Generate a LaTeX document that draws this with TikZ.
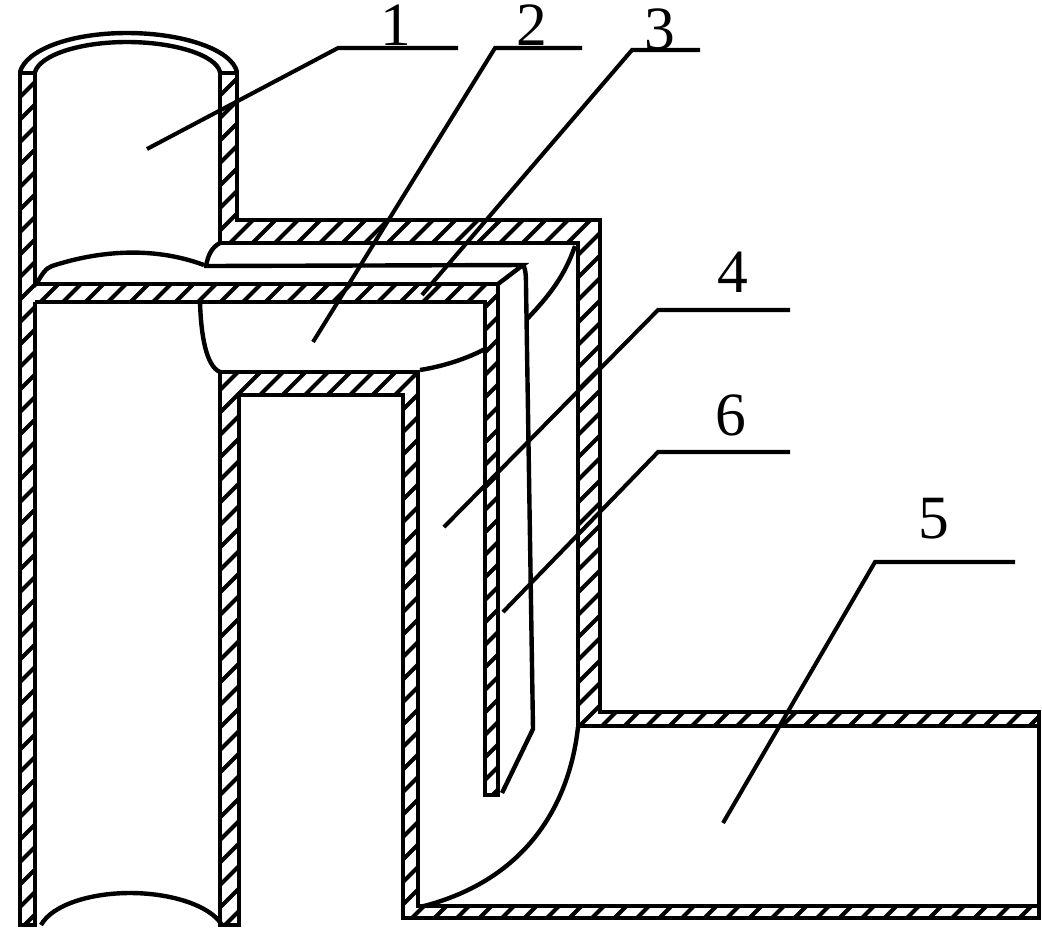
\documentclass[tikz,border=0pt]{standalone}
\usepackage{amsmath}
\usepackage{fontspec}
\setmainfont{Liberation Serif}
\tikzstyle{wall}=[black,line width=1.35pt,line join=miter]
\tikzstyle{hatch}=[black,line width=1.15pt]
\tikzstyle{edgeline}=[black,line width=1.25pt]
\tikzstyle{leader}=[black,line width=1.15pt]
\tikzstyle{partno}=[inner sep=0pt,font=\fontsize{17.5}{18}\selectfont]
\newcommand{\hatchwall}[2]{%
	\begin{scope}
		\clip #2;
		\foreach \k in {0,...,90}
			\draw[hatch] ({#1+22.5*\k},0) -- (0,{#1+22.5*\k});
	\end{scope}}

\begin{document}
\begin{tikzpicture}[x=0.01cm,y=-0.01cm]
	\useasboundingbox (0,0) rectangle (1042,929);
%--------------------start wall code --------------------
	%Hatching
	\hatchwall{4.5}{(20,73) rectangle (35,925)}
	\hatchwall{5}{(35,284) -- (498,284) -- (498,795) -- (485,795) -- (485,302) -- (35,302) -- cycle}
	\hatchwall{0.5}{(220,73) -- (237,73) -- (237,220) -- (600,220) -- (600,712) -- (1039,712) -- (1039,726) -- (578,726) -- (578,243) -- (220,243) -- cycle}
	\hatchwall{2.5}{(220,925) -- (239,925) -- (239,395) -- (403,395) -- (403,918) -- (1039,918) -- (1039,906) -- (418,906) -- (418,372) -- (220,372) -- cycle}

	%Left pipe wall
	\draw[wall] (35,284) -- (35,73) -- (20,73) -- (20,925) -- (35,925) -- (35,302);
	%Partition plate
	\draw[wall] (35,284) -- (498,284) -- (498,795) -- (485,795) -- (485,302) -- (35,302);
	%Upper shell
	\draw[wall] (220,73) -- (237,73) -- (237,220) -- (600,220) -- (600,712) -- (1039,712) -- (1039,726) -- (578,726) -- (578,243) -- (220,243) -- cycle;
	%Lower shell
	\draw[wall] (220,925) -- (239,925) -- (239,395) -- (403,395) -- (403,918) -- (1039,918) -- (1039,906) -- (418,906) -- (418,372) -- (220,372) -- cycle;
	%Outlet end
	\draw[wall] (1039,726) -- (1039,906);
%--------------------end wall code ----------------------
%--------------------start curve code -------------------
	%Pipe ends
	\draw[edgeline] (20,72) .. controls (26,50) and (70,33) .. (127,33) .. controls (184,33) and (232,50) .. (237,72);
	\draw[edgeline] (35,72) .. controls (40,55) and (80,42) .. (127,42) .. controls (174,42) and (216,55) .. (220,72);
	\draw[edgeline] (41,925) .. controls (52,905) and (90,893) .. (130,893) .. controls (170,893) and (210,905) .. (222,925);

	%Water surface in the pipe
	\draw[edgeline] (37,283) .. controls (42,274) and (46,268) .. (52,266) .. controls (95,252) and (150,245) .. (204,265);
	\draw[edgeline] (206,266) .. controls (208,255) and (212,247) .. (220,243);
	\draw[edgeline] (204,266) -- (523,265) -- (498,284);

	%Channel surfaces
	\draw[edgeline] (200,302) .. controls (201,335) and (206,366) .. (220,372);
	\draw[edgeline] (420,370) .. controls (445,366) and (468,358) .. (485,349);
	\draw[edgeline] (575,246) .. controls (565,275) and (550,295) .. (527,319);

	%Inner baffle edge
	\draw[edgeline] (523,265) .. controls (525,268) and (526,272) .. (526,285) -- (533,729) -- (502,793);

	%Outlet bend
	\draw[edgeline] (578,727) .. controls (570,800) and (530,880) .. (420,907);
%--------------------end curve code ---------------------
%--------------------start label code -------------------
	\coordinate (tipOne) at (147,149);
	\coordinate (kneeOne) at (338,48);
	\coordinate (shelfOne) at (458,48);
	\draw[leader] (tipOne) -- (kneeOne) -- (shelfOne);
	\node[partno] (labelOne) at (396,25) {1};

	\coordinate (tipTwo) at (313,342);
	\coordinate (kneeTwo) at (495,48);
	\coordinate (shelfTwo) at (582,48);
	\draw[leader] (tipTwo) -- (kneeTwo) -- (shelfTwo);
	\node[partno] (labelTwo) at (532,25) {2};

	\coordinate (tipThree) at (422,295);
	\coordinate (kneeThree) at (632,50);
	\coordinate (shelfThree) at (700,50);
	\draw[leader] (tipThree) -- (kneeThree) -- (shelfThree);
	\node[partno] (labelThree) at (660,29) {3};

	\coordinate (tipFour) at (444,527);
	\coordinate (kneeFour) at (658,310);
	\coordinate (shelfFour) at (790,310);
	\draw[leader] (tipFour) -- (kneeFour) -- (shelfFour);
	\node[partno] (labelFour) at (733,272) {4};

	\coordinate (tipSix) at (503,612);
	\coordinate (kneeSix) at (658,452);
	\coordinate (shelfSix) at (790,452);
	\draw[leader] (tipSix) -- (kneeSix) -- (shelfSix);
	\node[partno] (labelSix) at (731,415) {6};

	\coordinate (tipFive) at (723,823);
	\coordinate (kneeFive) at (875,562);
	\coordinate (shelfFive) at (1015,562);
	\draw[leader] (tipFive) -- (kneeFive) -- (shelfFive);
	\node[partno] (labelFive) at (934,519) {5};
%--------------------end label code ---------------------
\end{tikzpicture}
\end{document}
